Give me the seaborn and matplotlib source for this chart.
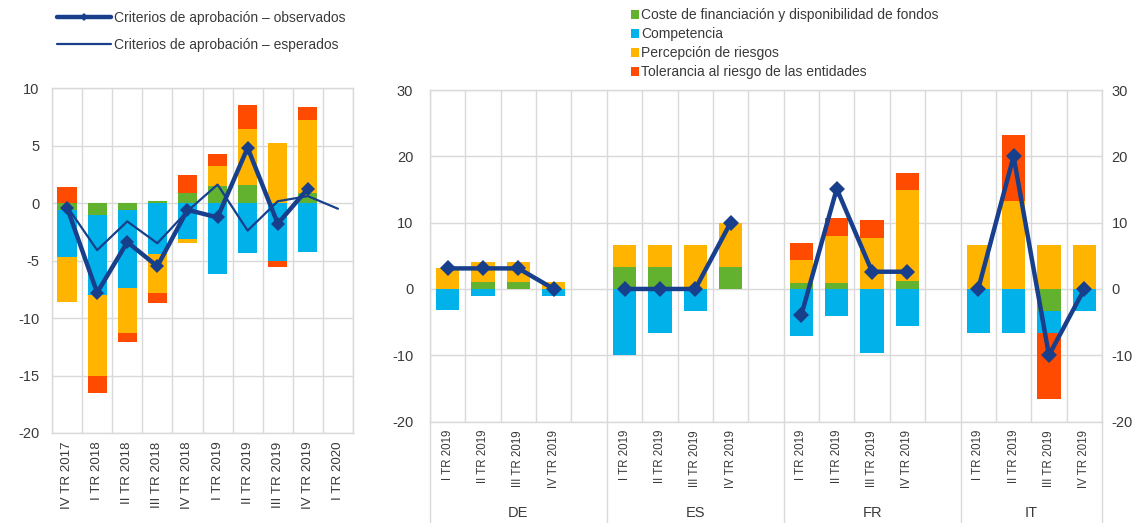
import numpy as np
import pandas as pd
import matplotlib
matplotlib.use("Agg")
import matplotlib.pyplot as plt
from matplotlib.lines import Line2D
from matplotlib.patches import Patch
import matplotlib.transforms as mtransforms
import seaborn as sns

# ---------------- data: left panel (euro area) ----------------
left_periods = ["IV TR 2017", "I TR 2018", "II TR 2018", "III TR 2018", "IV TR 2018",
                "I TR 2019", "II TR 2019", "III TR 2019", "IV TR 2019", "I TR 2020"]
left_cost = [-0.65, -1.0, -0.6, 0.2, 0.87, 1.5, 1.6, 0.0, 0.87, 0.0]
left_comp = [-4.05, -7.0, -6.8, -4.4, -3.1, -6.2, -4.35, -5.0, -4.3, 0.0]
left_risk = [-3.9, -7.0, -3.9, -3.4, -0.4, 1.7, 4.8, 5.25, 6.35, 0.0]
left_tol = [1.4, -1.5, -0.8, -0.9, 1.6, 1.05, 2.1, -0.6, 1.1, 0.0]
left_obs = [-0.4, -7.8, -3.4, -5.5, -0.6, -1.25, 4.8, -1.8, 1.25, np.nan]
left_exp = [-0.3, -4.1, -1.6, -3.5, -0.7, 1.6, -2.4, 0.15, 0.6, -0.5]

# ---------------- data: right panel (countries) ----------------
countries = ["DE", "ES", "FR", "IT"]
quarters = ["I TR 2019", "II TR 2019", "III TR 2019", "IV TR 2019"]
# values listed DE(4), ES(4), FR(4), IT(4)
right_cost = [0.0, 1.0, 1.0, 0.0,   3.3, 3.3, 0.0, 3.3,   0.85, 0.85, 0.0, 1.25,   0.0, 0.0, -3.3, 0.0]
right_comp = [-3.1, -1.0, 0.0, -1.0, -10.0, -6.7, -3.3, 0.0, -7.1, -4.1, -9.7, -5.6, -6.6, -6.6, -3.3, -3.3]
right_risk = [3.1, 3.1, 3.1, 1.0,   3.3, 3.3, 6.7, 6.7,   3.5, 7.2, 7.7, 13.6,   6.6, 13.3, 6.6, 6.6]
right_tol = [0.0, 0.0, 0.0, 0.0,    0.0, 0.0, 0.0, 0.0,   2.6, 2.7, 2.7, 2.7,    0.0, 9.9, -10.0, 0.0]
right_obs = [3.1, 3.1, 3.1, 0.0,    0.0, 0.0, 0.0, 10.0,  -3.9, 15.1, 2.6, 2.6,  0.0, 20.0, -10.0, 0.0]

comp_names = ["Coste de financiación y disponibilidad de fondos", "Competencia",
              "Percepción de riesgos", "Tolerancia al riesgo de las entidades"]
comp_colors = ["#62b22f", "#00b1ea", "#ffb400", "#ff4b00"]
line_color = "#173f8c"
grid_color = "#d9d9d9"
text_color = "#3a3a3a"

sns.set_theme(style="white")
plt.rcParams["font.family"] = ["Liberation Sans", "DejaVu Sans"]
plt.rcParams["axes.unicode_minus"] = False
plt.rcParams["text.color"] = text_color
plt.rcParams["xtick.color"] = text_color
plt.rcParams["ytick.color"] = text_color

W, H = 1138, 524
fig = plt.figure(figsize=(W / 100, H / 100), dpi=100)

def px_axes(x0, x1, ytop, ybot):
    return fig.add_axes([x0 / W, (H - ybot) / H, (x1 - x0) / W, (ybot - ytop) / H])

ax1 = px_axes(52, 353, 88, 433)
ax2 = px_axes(430, 1102, 90, 421.6)


def stacked_bars(ax, keys, comps, width):
    n = len(keys)
    pos = np.zeros(n)
    neg = np.zeros(n)
    for vals, color in zip(comps, comp_colors):
        vals = np.asarray(vals, dtype=float)
        bottom = np.where(vals >= 0, pos, neg)
        df = pd.DataFrame({"k": keys, "v": vals})
        sns.barplot(data=df, x="k", y="v", order=keys, bottom=bottom, color=color,
                    saturation=1, width=width, errorbar=None, linewidth=0, ax=ax)
        pos = np.where(vals >= 0, pos + vals, pos)
        neg = np.where(vals < 0, neg + vals, neg)


def style_axes(ax):
    for s in ax.spines.values():
        s.set_color(grid_color)
        s.set_linewidth(1)
    ax.set_axisbelow(True)
    ax.grid(axis="y", which="major", color=grid_color, linewidth=1)
    ax.grid(axis="x", which="minor", color=grid_color, linewidth=1)
    ax.grid(axis="x", which="major", visible=False)
    ax.set_xlabel("")
    ax.set_ylabel("")


# ---------------- left panel ----------------
n1 = len(left_periods)
stacked_bars(ax1, left_periods, [left_cost, left_comp, left_risk, left_tol], 0.64)
x1 = np.arange(n1)
sns.lineplot(x=x1, y=left_exp, color=line_color, linewidth=1.6, ax=ax1, legend=False)
obs_mask = ~np.isnan(np.asarray(left_obs))
sns.lineplot(x=x1[obs_mask], y=np.asarray(left_obs)[obs_mask], color=line_color,
             linewidth=3.2, marker="D", markersize=7.5, markeredgewidth=0, ax=ax1, legend=False)
ax1.set_xlim(-0.5, n1 - 0.5)
ax1.set_ylim(-20, 10)
ax1.set_yticks(np.arange(-20, 11, 5))
ax1.set_xticks(x1)
ax1.set_xticklabels(left_periods, rotation=90, fontsize=9.6, va="top")
ax1.set_xticks(np.arange(-0.5, n1, 1), minor=True)
ax1.tick_params(axis="x", which="both", length=0, pad=6)
ax1.tick_params(axis="y", length=0, pad=9, labelsize=10.5)
style_axes(ax1)

# ---------------- right panel ----------------
slot_keys, slot_idx = [], []
for ci, c in enumerate(countries):
    for qi, q in enumerate(quarters):
        slot_keys.append(f"{c}|{q}")
        slot_idx.append(ci * 4 + qi)
    if ci < len(countries) - 1:
        slot_keys.append(f"{c}|gap")
        slot_idx.append(None)

def expand(vals):
    return [0.0 if i is None else vals[i] for i in slot_idx]

stacked_bars(ax2, slot_keys, [expand(right_cost), expand(right_comp),
                              expand(right_risk), expand(right_tol)], 0.66)
positions = np.array([p for p, i in enumerate(slot_idx) if i is not None])
for ci, c in enumerate(countries):
    xs = positions[ci * 4:(ci + 1) * 4]
    ys = right_obs[ci * 4:(ci + 1) * 4]
    sns.lineplot(x=xs, y=ys, color=line_color, linewidth=3.2, marker="D",
                 markersize=8, markeredgewidth=0, ax=ax2, legend=False)

ns = len(slot_keys)
ax2.set_xlim(-0.5, ns - 0.5)
ax2.set_ylim(-20, 30)
ax2.set_yticks(np.arange(-20, 31, 10))
ax2.set_xticks(positions)
ax2.set_xticklabels([quarters[i % 4] for i in slot_idx if i is not None],
                    rotation=90, fontsize=8.3, va="top")
ax2.set_xticks(np.arange(-0.5, ns, 1), minor=True)
ax2.tick_params(axis="x", which="major", length=0, pad=6)
ax2.tick_params(axis="x", which="minor", length=5, color=grid_color, width=1)
ax2.tick_params(axis="y", length=0, labelsize=10.5, pad=12)
style_axes(ax2)

# right-hand duplicate scale
ax2r = ax2.twinx()
ax2r.set_ylim(ax2.get_ylim())
ax2r.set_yticks(np.arange(-20, 31, 10))
ax2r.tick_params(axis="y", length=0, labelsize=10.5, pad=7)
for s in ax2r.spines.values():
    s.set_visible(False)
ax2r.grid(False)

trans = mtransforms.blended_transform_factory(ax2.transData, ax2.transAxes)
for b in [-0.5, 4.5, 9.5, 14.5, ns - 0.5]:
    ax2.add_line(Line2D([b, b], [0, -0.303], transform=trans, color=grid_color,
                        linewidth=1, clip_on=False))
for ci, c in enumerate(countries):
    start = ci * 5 - 0.5
    end = min(start + 5, ns - 0.5)
    ax2.text((start + end) / 2, -0.276, c, transform=trans, ha="center", va="center",
             fontsize=10.5, color=text_color)

# ---------------- legends ----------------
h_left = [Line2D([0, 0.5, 1], [0, 0, 0], color=line_color, linewidth=3.2, marker="D",
                 markersize=4, markevery=[1], markeredgewidth=0),
          Line2D([], [], color=line_color, linewidth=1.6)]
fig.legend(h_left, ["Criterios de aprobación – observados", "Criterios de aprobación – esperados"],
           loc="upper left", bbox_to_anchor=(57 / W, 1 - 11 / H), frameon=False,
           fontsize=10, handlelength=3.9, handletextpad=0.2, labelspacing=0.9,
           borderpad=0, borderaxespad=0)

h_right = [Patch(facecolor=c, edgecolor="none") for c in comp_colors]
fig.legend(h_right, comp_names, loc="upper left", bbox_to_anchor=(631 / W, 1 - 8 / H),
           frameon=False, fontsize=10, handlelength=0.6, handleheight=0.6,
           handletextpad=0.15, labelspacing=0.36, borderpad=0, borderaxespad=0)

fig.savefig("out.png", dpi=100)
